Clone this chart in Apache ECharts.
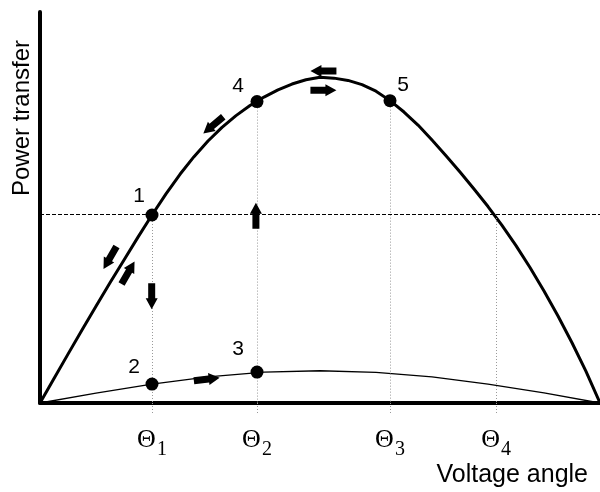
<!DOCTYPE html>
<html>
<head>
<meta charset="utf-8">
<title>power transfer</title>
<script src="https://cdn.jsdelivr.net/npm/echarts@6/dist/echarts.min.js"></script>
<style>
  html, body { margin: 0; padding: 0; background: #fff; }
  #main { width: 600px; height: 492px; }
</style>
</head>
<body>
<div id="main"></div>
<script type="text/javascript">
// voltage angle in degrees (every 4.5), power as fraction of the peak
var bigAngle = [0, 4.5, 9, 13.5, 18, 22.5, 27, 31.5, 36, 40.5, 45, 49.5, 54, 58.5, 63, 67.5, 72, 76.5, 81, 85.5,
  90, 94.5, 99, 103.5, 108, 112.5, 117, 121.5, 126, 130.5, 135, 139.5, 144, 148.5, 153, 157.5, 162, 166.5, 171, 175.5, 180];
var bigPower = [0, 0.075, 0.15, 0.224, 0.297, 0.369, 0.439, 0.509, 0.577, 0.642, 0.702, 0.756, 0.804, 0.846, 0.882, 0.913, 0.939, 0.961, 0.979, 0.992,
  1.0, 0.997, 0.99, 0.977, 0.957, 0.928, 0.893, 0.853, 0.807, 0.759, 0.709, 0.657, 0.603, 0.545, 0.483, 0.416, 0.344, 0.267, 0.185, 0.097, 0];
var smallAngle = [0, 18, 36, 54, 72, 90, 108, 126, 144, 162, 180];
var smallPower = [0, 0.03, 0.058, 0.08, 0.095, 0.099, 0.094, 0.08, 0.058, 0.031, 0];

var thetaValues = [36, 69.75, 112.5, 146.6];
var thetaNames = ['1', '2', '3', '4'];
var loadLevel = 0.577;

// numbered operating points
var pointNames = ['1', '2', '3', '4', '5'];
var pointAngle = [36, 36, 69.75, 69.75, 112.5];
var pointPower = [0.577, 0.058, 0.095, 0.925, 0.928];
var pointLabelOffset = [[-13, -19], [-18, -17], [-19, -23], [-19, -15], [13, -15]];

// little block arrows: position and direction (deg, counter-clockwise)
var arrowAngle = [22.5, 28.3, 35.9, 69.4, 55.7, 91.1, 91.1, 53.6];
var arrowPower = [0.446, 0.40, 0.328, 0.575, 0.853, 1.019, 0.960, 0.073];
var arrowDir = [240, 60, -90, 90, 220, 180, 0, 7];

var chart = echarts.init(document.getElementById('main'));

function pairs(xs, ys) {
  return xs.map(function (x, i) { return [x, ys[i]]; });
}

var guides = [
  [[thetaValues[0], loadLevel], [thetaValues[0], 0]],
  [[thetaValues[1], pointPower[3]], [thetaValues[1], 0]],
  [[thetaValues[2], pointPower[4]], [thetaValues[2], 0]],
  [[thetaValues[3], loadLevel], [thetaValues[3], 0]]
].map(function (p) {
  return [{ coord: p[0] }, { coord: p[1] }];
});

var arrowPath = 'path://M0,2.5 L15,2.5 L15,0 L26,6 L15,12 L15,9.5 L0,9.5 Z';

chart.setOption({
  backgroundColor: '#fff',
  animation: false,
  grid: { left: 40, right: 0, top: 12, bottom: 89 },
  xAxis: {
    type: 'value',
    min: 0,
    max: 180,
    name: 'Voltage angle',
    nameLocation: 'end',
    nameGap: -12,
    nameTextStyle: {
      fontFamily: 'Liberation Sans',
      fontSize: 25,
      color: '#000',
      align: 'right',
      verticalAlign: 'top',
      padding: [60, 0, 0, 0]
    },
    axisLine: { lineStyle: { color: '#000', width: 4 } },
    splitLine: { show: false },
    axisTick: {
      show: true,
      customValues: thetaValues,
      length: 12,
      lineStyle: { color: '#999', width: 1, type: [1, 2] }
    },
    axisLabel: {
      customValues: thetaValues,
      margin: 24,
      formatter: function (v) {
        var i = thetaValues.indexOf(v);
        return '{t|Θ}{s|' + thetaNames[i] + '}';
      },
      rich: {
        t: { fontFamily: 'Liberation Serif', fontSize: 26, color: '#000', verticalAlign: 'top' },
        s: { fontFamily: 'Liberation Serif', fontSize: 20, color: '#000', verticalAlign: 'top', padding: [13, 0, 0, 1] }
      }
    }
  },
  yAxis: {
    type: 'value',
    min: 0,
    max: 1.2,
    axisLine: { show: true, lineStyle: { color: '#000', width: 4 } },
    axisTick: { show: false },
    axisLabel: { show: false },
    splitLine: { show: false }
  },
  graphic: [{
    type: 'text',
    x: 22,
    y: 118,
    rotation: Math.PI / 2,
    style: {
      text: 'Power transfer',
      fontFamily: 'Liberation Sans',
      fontSize: 24,
      fill: '#000',
      align: 'center',
      verticalAlign: 'middle'
    }
  }],
  series: [
    {
      name: 'guides',
      type: 'line',
      data: [],
      markLine: {
        silent: true,
        symbol: 'none',
        label: { show: false },
        lineStyle: { color: '#999', width: 1, type: [1, 2] },
        data: guides
      }
    },
    {
      name: 'load',
      type: 'line',
      data: [],
      markLine: {
        silent: true,
        symbol: 'none',
        label: { show: false },
        lineStyle: { color: '#000', width: 1.2, type: [4, 2] },
        data: [{ yAxis: loadLevel }]
      }
    },
    {
      name: 'high',
      type: 'line',
      symbol: 'none',
      lineStyle: { color: '#000', width: 3, join: 'round' },
      data: pairs(bigAngle, bigPower)
    },
    {
      name: 'low',
      type: 'line',
      symbol: 'none',
      lineStyle: { color: '#000', width: 1.3, join: 'round' },
      data: pairs(smallAngle, smallPower)
    },
    {
      name: 'points',
      type: 'scatter',
      symbolSize: 13,
      itemStyle: { color: '#000', opacity: 1 },
      z: 5,
      data: pointNames.map(function (n, i) {
        return {
          value: [pointAngle[i], pointPower[i]],
          label: {
            show: true,
            formatter: n,
            position: 'inside',
            offset: pointLabelOffset[i],
            fontFamily: 'Liberation Sans',
            fontSize: 21,
            color: '#000'
          }
        };
      })
    },
    {
      name: 'arrows',
      type: 'scatter',
      symbol: arrowPath,
      symbolSize: [26, 12],
      itemStyle: { color: '#000', opacity: 1 },
      z: 6,
      data: arrowAngle.map(function (a, i) {
        return { value: [a, arrowPower[i]], symbolRotate: arrowDir[i] };
      })
    }
  ]
});
</script>
</body>
</html>
